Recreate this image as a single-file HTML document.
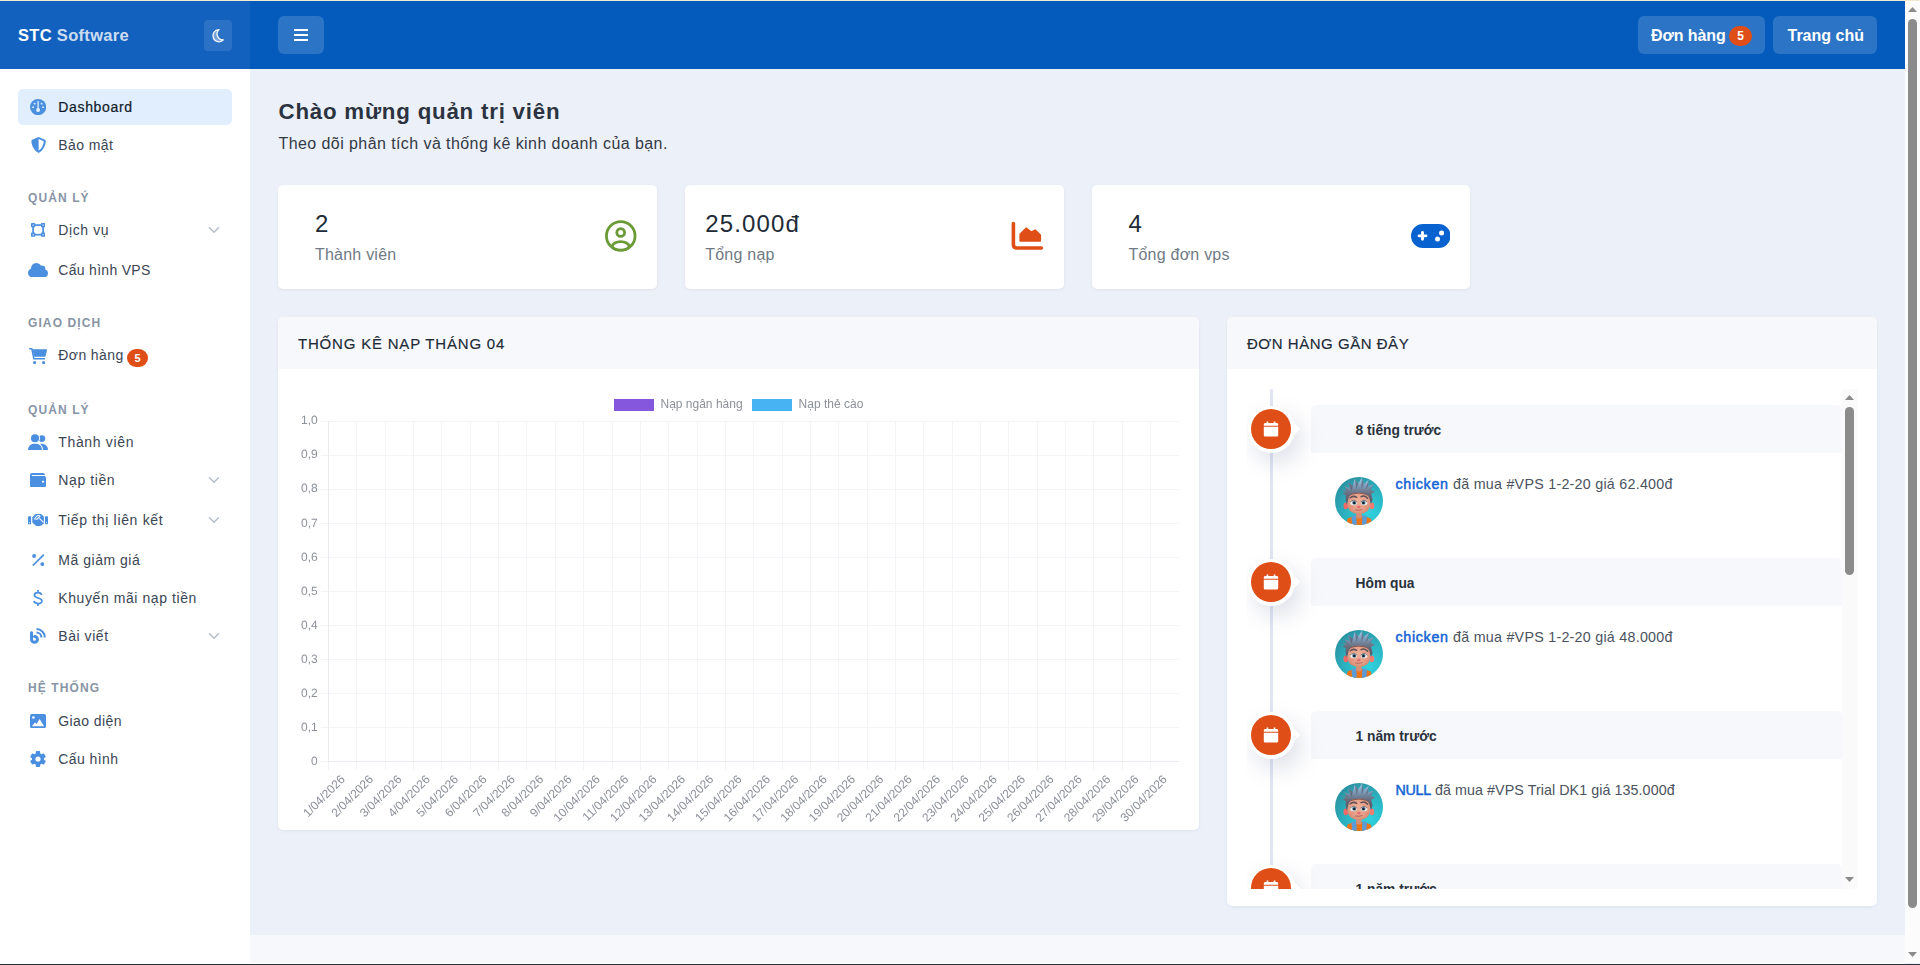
<!DOCTYPE html>
<html lang="vi">
<head>
<meta charset="utf-8">
<title>STC Software - Dashboard</title>
<style>
*{box-sizing:border-box;margin:0;padding:0}
html,body{width:1920px;height:965px;overflow:hidden}
body{font-family:"Liberation Sans",sans-serif;background:#ecf0f9;color:#212b37;position:relative}
.abs{position:absolute}
.t{position:absolute;white-space:nowrap;line-height:1}
/* top hairline + bottom line (browser chrome artefacts) */
#topline{left:0;top:0;width:1920px;height:1px;background:#f3ead2;z-index:50}
#botline{left:0;top:964px;width:1920px;height:1px;background:#26343a;z-index:50}
/* header */
#hdr{left:250px;top:1px;width:1655px;height:68px;background:#045bbc}
#shdr{left:0;top:1px;width:250px;height:68px;background:#1361bf}
.hbtn{position:absolute;background:rgba(255,255,255,.155);border-radius:6px}
/* sidebar */
#side{left:0;top:69px;width:250px;height:896px;background:#fff}
.mi{position:absolute;left:58.3px;font-size:14px;color:#3b4654;white-space:nowrap;line-height:20px;height:20px;letter-spacing:.4px}
.mi.act{color:#111c2b;-webkit-text-stroke:.22px #111c2b;letter-spacing:.66px}
.cat{position:absolute;left:28px;font-size:12px;font-weight:700;color:#8794a5;letter-spacing:1.1px;white-space:nowrap;line-height:14px;height:14px}
.ic{position:absolute;fill:#4a90e2}
.chev{position:absolute;left:208px;width:12px;height:8px;fill:none;stroke:#b4bcc8;stroke-width:1.4}
/* cards */
.card{position:absolute;background:#fff;border-radius:5px;box-shadow:0 1px 3px rgba(120,130,170,.12)}
.chead{position:absolute;left:0;top:0;right:0;height:52px;background:#f7f8fc;border-radius:5px 5px 0 0}
.num{font-size:24px;color:#212b37;letter-spacing:1.15px}
.lbl{font-size:16px;color:#6f7a86;letter-spacing:.22px}
.tlh{font-size:13.8px;font-weight:700;color:#2a323d;letter-spacing:0}
.tlt{font-size:14.3px;color:#4b5360;letter-spacing:.25px}
.tlt b{color:#1565d6;font-weight:400;-webkit-text-stroke:.5px #1565d6;letter-spacing:.7px}
/* scrollbars */
#vsb{left:1905px;top:1px;width:15px;height:962px;background:#fcfcfc}
</style>
</head>
<body>
<svg width="0" height="0" style="position:absolute">
<defs>
<radialGradient id="avbg" cx="70%" cy="75%" r="85%"><stop offset="0" stop-color="#2fd3df"/><stop offset=".55" stop-color="#2bb4c2"/><stop offset="1" stop-color="#2a8f9f"/></radialGradient>
<linearGradient id="avhair" x1="0" y1="0" x2="0" y2="1"><stop offset="0" stop-color="#a2d3f2"/><stop offset=".3" stop-color="#7d9cba"/><stop offset=".6" stop-color="#686c7c"/><stop offset="1" stop-color="#54545f"/></linearGradient>
<radialGradient id="avskin" cx="50%" cy="45%" r="60%"><stop offset="0" stop-color="#efb097"/><stop offset=".7" stop-color="#e39e86"/><stop offset="1" stop-color="#cf866f"/></radialGradient>
<clipPath id="avclip"><circle cx="24" cy="24" r="24"/></clipPath>
<symbol id="avatar" viewBox="0 0 48 48">
<g clip-path="url(#avclip)">
<rect width="48" height="48" fill="url(#avbg)"/>
<path d="M12.6 41.4 Q18 38.6 24 39 Q30 38.6 35.6 41.4 L38 49 L10.5 49 Z" fill="#ee7518"/>
<path d="M16.4 39.8 Q18.5 38 21.4 38.2 L21.7 48 L17.3 48 Z" fill="#5b9bd8"/>
<path d="M27.3 38.2 Q30 38 32 39.8 L31.2 48 L27 48 Z" fill="#5b9bd8"/>
<path d="M21.3 34 L26.5 34 L26.7 40.4 Q24 42.4 21.1 40.4 Z" fill="#d48f76"/>
<ellipse cx="10.8" cy="28.9" rx="2.3" ry="3.3" fill="#ee6a66"/>
<ellipse cx="36.9" cy="28.9" rx="2.3" ry="3.3" fill="#ef7d70"/>
<path d="M12.4 24 Q12.2 14.6 23.8 14.2 Q35.4 14.6 35.2 24 Q35.6 31 32.2 34.3 Q28 37.2 23.8 36.8 Q19.6 37.2 15.4 34.3 Q12 31 12.4 24 Z" fill="url(#avskin)"/>
<path d="M13.2 20 Q14.4 15.6 23.8 15.2 Q33.2 15.6 34.6 20 Q30 16.6 23.8 16.8 Q17.6 16.6 13.2 20Z" fill="#7a4038" opacity=".75"/>
<path d="M6.8 12.6 L11.8 13.6 L9.4 9.2 L14.4 11 L13.2 5.6 L18 8.6 L19.6 1.8 L23.2 6.6 L26.8 .8 L28.8 7 L33.6 2.8 L33.2 9 L38.6 7.6 L35.6 12.6 L40 14.8 L36.2 16.8 L37.6 22.6 L36 27 L34.6 22 Q33.6 17.4 29 16.4 Q24 15 18 16.5 Q14 17.5 13.2 22.4 L11.8 27.4 L10.6 22.6 L10.8 18 L7.4 16.8 L10.4 15 Z" fill="url(#avhair)"/>
<path d="M13.2 5.6 L16.4 13.8 L18 8.6 Z M19.6 1.8 L21.6 12 L23.2 6.6Z M26.8 .8 L26.4 11.6 L28.8 7Z M33.6 2.8 L30.6 12.6 L33.2 9Z M38.6 7.6 L33.6 14.6 L35.6 12.6Z M9.4 9.2 L14 15.4 L11.8 13.6Z" fill="#4e4f5c" opacity=".55"/>
<path d="M15.2 20.8 Q18.2 18.2 21.6 20.3" stroke="#5e5058" stroke-width="1.5" fill="none" stroke-linecap="round"/>
<path d="M26 19.7 Q29.4 18 32.6 21.2" stroke="#5e5058" stroke-width="1.5" fill="none" stroke-linecap="round"/>
<ellipse cx="18.5" cy="25.6" rx="3.4" ry="2.7" fill="#eef1f3"/>
<ellipse cx="29.1" cy="25.6" rx="3.4" ry="2.7" fill="#eef1f3"/>
<path d="M15.1 25.2 Q18.5 21.6 21.9 25" stroke="#7c5a58" stroke-width=".9" fill="none"/>
<path d="M25.7 25 Q29.1 21.6 32.5 25.2" stroke="#7c5a58" stroke-width=".9" fill="none"/>
<circle cx="19.2" cy="25.8" r="2.05" fill="#5a89a4"/><circle cx="28.5" cy="25.8" r="2.05" fill="#5a89a4"/>
<circle cx="19.3" cy="25.9" r="1.2" fill="#121c26"/><circle cx="28.4" cy="25.9" r="1.2" fill="#121c26"/>
<ellipse cx="23.8" cy="30.1" rx="1.8" ry="1.3" fill="#e56c79"/>
<ellipse cx="16.4" cy="30.6" rx="2.4" ry="1.6" fill="#e88878" opacity=".55"/><ellipse cx="31.4" cy="30.6" rx="2.4" ry="1.6" fill="#e88878" opacity=".55"/>
<path d="M20.4 33 Q23.8 34 27.2 32.6" stroke="#a85c52" stroke-width=".8" fill="none" stroke-linecap="round"/>
</g>
</symbol>
<symbol id="cal" viewBox="0 0 16 16">
<path d="M3.6 0.4h1.7v1.7h5.4V0.4h1.7v1.7h1.2c.9 0 1.6.7 1.6 1.6v1H.8v-1c0-.9.7-1.6 1.6-1.6h1.2z M.8 5.7h14.4v8.3c0 .9-.7 1.6-1.6 1.6H2.4c-.9 0-1.6-.7-1.6-1.6z" fill="#fff"/>
</symbol>
</defs></svg>
<div id="topline" class="abs"></div>
<div id="botline" class="abs"></div>

<!-- HEADER -->
<div id="shdr" class="abs"></div>
<div id="hdr" class="abs"></div>
<div class="t" style="left:18px;top:27.1px;font-size:16.5px;font-weight:700;color:#fff;letter-spacing:.31px">STC <span style="color:rgba(255,255,255,.8)">Software</span></div>
<div class="hbtn" style="left:204px;top:20px;width:28px;height:31px;border-radius:4px;background:rgba(255,255,255,.105)"></div>
<svg class="abs" style="left:211px;top:28px" width="14" height="15" viewBox="0 0 14 15"><path d="M8.1 1.6 A6.1 6.1 0 1 0 12.4 11.9 A5.9 5.9 0 0 1 8.1 1.6 Z" fill="rgba(255,255,255,.35)" stroke="#fff" stroke-width="1.25" stroke-linejoin="round"/></svg>
<div class="hbtn" style="left:278px;top:16px;width:46px;height:38px"></div>
<div class="abs" style="left:294px;top:29px;width:14px;height:2px;background:#fff"></div><div class="abs" style="left:294px;top:34px;width:14px;height:2px;background:#fff"></div><div class="abs" style="left:294px;top:39px;width:14px;height:2px;background:#fff"></div>
<div class="hbtn" style="left:1638px;top:16px;width:127px;height:38px"></div>
<div class="t" style="left:1651px;top:28.0px;font-size:16px;font-weight:700;color:#fff;letter-spacing:-.1px">Đơn hàng</div>
<div class="abs" style="left:1729px;top:26px;width:23px;height:20px;border-radius:10px;background:#e04e17"></div>
<div class="t" style="left:1729px;width:23px;text-align:center;top:30.3px;font-size:12px;font-weight:700;color:#fff">5</div>
<div class="hbtn" style="left:1773px;top:16px;width:104px;height:38px"></div>
<div class="t" style="left:1787.5px;top:28.0px;font-size:16px;font-weight:700;color:#fff">Trang chủ</div>

<!-- SIDEBAR -->
<div id="side" class="abs"></div>
<div class="abs" style="left:18px;top:89px;width:214px;height:36px;border-radius:5px;background:#e1eefd"></div>
<div class="mi act" id="mi0" style="top:97px">Dashboard</div>
<div class="mi" id="mi1" style="top:135px">Bảo mật</div>
<div class="mi" id="mi2" style="top:220px;letter-spacing:0.6px">Dịch vụ</div>
<svg class="chev" style="top:225.5px" viewBox="0 0 12 8"><path d="M1 1.2 L6 6.2 L11 1.2"/></svg>
<div class="mi" id="mi3" style="top:260px;letter-spacing:0.3px">Cấu hình VPS</div>
<div class="mi" id="mi4" style="top:345px">Đơn hàng</div>
<div class="mi" id="mi5" style="top:432px;letter-spacing:0.65px">Thành viên</div>
<div class="mi" id="mi6" style="top:470px;letter-spacing:0.6px">Nạp tiền</div>
<svg class="chev" style="top:475.5px" viewBox="0 0 12 8"><path d="M1 1.2 L6 6.2 L11 1.2"/></svg>
<div class="mi" id="mi7" style="top:510px;letter-spacing:0.67px">Tiếp thị liên kết</div>
<svg class="chev" style="top:515.5px" viewBox="0 0 12 8"><path d="M1 1.2 L6 6.2 L11 1.2"/></svg>
<div class="mi" id="mi8" style="top:550px;letter-spacing:0.52px">Mã giảm giá</div>
<div class="mi" id="mi9" style="top:588px;letter-spacing:0.58px">Khuyến mãi nạp tiền</div>
<div class="mi" id="mi10" style="top:626px;letter-spacing:0.55px">Bài viết</div>
<svg class="chev" style="top:631.5px" viewBox="0 0 12 8"><path d="M1 1.2 L6 6.2 L11 1.2"/></svg>
<div class="mi" id="mi11" style="top:711px">Giao diện</div>
<div class="mi" id="mi12" style="top:749px">Cấu hình</div>
<div class="cat" id="cat0" style="top:190.7px">QUẢN LÝ</div>
<div class="cat" id="cat1" style="top:315.7px">GIAO DỊCH</div>
<div class="cat" id="cat2" style="top:403.2px">QUẢN LÝ</div>
<div class="cat" id="cat3" style="top:681.1px">HỆ THỐNG</div>
<div class="abs" style="left:127px;top:349px;width:21px;height:17.5px;border-radius:9px;background:#e04e17"></div>
<div class="t" style="left:127px;width:21px;text-align:center;top:352.7px;font-size:11px;font-weight:700;color:#fff">5</div>

<!-- icons -->
<svg class="abs" style="left:29.9px;top:98.9px" width="16.2" height="16.2" viewBox="0 0 16 16"><circle cx="8" cy="8" r="8" fill="#4a8fe0"/><rect x="7.35" y="1.9" width="1.3" height="8" rx=".65" fill="#e1eefd"/><circle cx="8" cy="10.8" r="1.95" fill="#e1eefd"/><rect x="3.7" y="3.7" width="1.7" height="1.7" rx=".5" fill="#e1eefd"/><rect x="10.6" y="3.7" width="1.7" height="1.7" rx=".5" fill="#e1eefd"/><rect x="2.1" y="7.3" width="1.8" height="1.7" rx=".4" fill="#e1eefd"/><rect x="12.1" y="7.3" width="1.8" height="1.7" rx=".4" fill="#e1eefd"/></svg>
<svg class="abs" style="left:30.7px;top:136.8px" width="15.2" height="16" viewBox="0 0 15.2 16"><path d="M7.6 .1 L14.1 2.8 Q14.8 3.1 14.8 3.9 C14.6 9.2 11.8 13.6 7.6 15.9 C3.4 13.6 .6 9.2 .4 3.9 Q.4 3.1 1.1 2.8 Z" fill="#4a8fe0"/><path d="M7.6 2.1 L12.8 4.3 C12.5 8.6 10.4 11.9 7.6 13.7 Z" fill="#fff"/></svg>
<svg class="abs" style="left:31px;top:223px" width="14.2" height="13.8" viewBox="0 0 14.2 13.8"><rect x="2.1" y="2.1" width="10" height="9.6" fill="none" stroke="#4a8fe0" stroke-width="1.7"/><rect x="0" y="0" width="4.2" height="4.2" rx=".7" fill="#4a8fe0"/><rect x="1.45" y="1.45" width="1.3" height="1.3" fill="#cfe1f7"/><rect x="0" y="9.6" width="4.2" height="4.2" rx=".7" fill="#4a8fe0"/><rect x="1.45" y="11.049999999999999" width="1.3" height="1.3" fill="#cfe1f7"/><rect x="10" y="0" width="4.2" height="4.2" rx=".7" fill="#4a8fe0"/><rect x="11.45" y="1.45" width="1.3" height="1.3" fill="#cfe1f7"/><rect x="10" y="9.6" width="4.2" height="4.2" rx=".7" fill="#4a8fe0"/><rect x="11.45" y="11.049999999999999" width="1.3" height="1.3" fill="#cfe1f7"/></svg>
<svg class="abs" style="left:28px;top:262.8px" width="20" height="14.2" viewBox="0 0 20 14.2"><g fill="#4a8fe0"><circle cx="4.3" cy="9.9" r="4.3"/><circle cx="16.1" cy="10.3" r="3.9"/><rect x="4.3" y="7" width="11.8" height="7.2"/><circle cx="8.3" cy="5.3" r="5.3"/><circle cx="13.9" cy="6.1" r="3.5"/></g></svg>
<svg class="abs" style="left:28.9px;top:347.7px" width="18.2" height="16.3" viewBox="0 0 18.2 16.3"><g fill="#4a8fe0"><path d="M.2 .1 H2.9 Q3.5 .1 3.65 .7 L5.55 10 H16 V11.5 H4.9 Q4.3 11.5 4.17 10.9 L2.25 1.6 H.2 Z"/><path d="M3.3 1.3 H17.4 Q18.3 1.3 18.05 2.2 L16.6 8.1 Q16.45 8.7 15.8 8.7 H5.3 Z"/><circle cx="5.6" cy="14.6" r="1.6"/><circle cx="14.6" cy="14.6" r="1.6"/></g></svg>
<svg class="abs" style="left:28px;top:433.7px" width="20" height="16.4" viewBox="0 0 20 16.4"><circle cx="13.9" cy="4.6" r="3.4" fill="#4a8fe0"/><path d="M12.4 9.9 C17 9.5 20 12 20 16.3 H12.4 Z" fill="#4a8fe0"/><circle cx="7" cy="4.2" r="5" fill="#fff"/><path d="M-1 16.4 C-1 11 2.6 8.7 7 8.7 C11.4 8.7 15.1 11 15.1 16.4 Z" fill="#fff"/><circle cx="7" cy="4.2" r="4.05" fill="#4a8fe0"/><path d="M0 16.3 C0 11.8 3 9.8 7 9.8 C11 9.8 14 11.8 14 16.3 Z" fill="#4a8fe0"/></svg>
<svg class="abs" style="left:30px;top:472.7px" width="16" height="14.3" viewBox="0 0 16 14.3"><rect x="0" y="0" width="15" height="14.3" rx="2" fill="#4a8fe0"/><rect x="0" y="2.9" width="16" height="11.4" rx="2" fill="#4a8fe0"/><rect x="1.8" y="2" width="13.2" height=".95" fill="#fff"/><rect x="11.9" y="7.8" width="2.3" height="1.7" rx=".85" fill="#fff"/></svg>
<svg class="abs" style="left:28px;top:513.6px" width="20" height="12.4" viewBox="0 0 20 12.4"><g fill="#4a8fe0"><rect x="0" y="2.3" width="3.1" height="7.9" rx=".4"/><rect x="16.9" y="2.3" width="3.1" height="7.9" rx=".4"/><path d="M4.3 3.2 L6.9 .4 Q7.3 0 7.9 0 H12.6 Q13.2 0 13.6 .4 L15.9 2.8 V9.6 L14.4 10.6 L13.6 11.6 L12.2 11.7 L11.4 12.4 L9.8 12 L8.6 12.3 L4.3 8.6 Z"/></g><circle cx="1.5" cy="8.7" r=".55" fill="#fff"/><circle cx="18.5" cy="8.7" r=".55" fill="#fff"/><path d="M11.3 4.4 L15.6 8.4" stroke="#fff" stroke-width="1.05" fill="none"/><path d="M6.6 5 L8.6 2.3 Q9.8 1.1 11.2 1.6 L12 2.2 L9.6 4.6 Q8.8 5.6 7.9 5.2" stroke="#fff" stroke-width="1.05" fill="none" stroke-linecap="round" stroke-linejoin="round"/></svg>
<svg class="abs" style="left:31.8px;top:553.8px" width="12.6" height="12.2" viewBox="0 0 12.6 12.2"><circle cx="2.1" cy="2" r="1.95" fill="#4a8fe0"/><circle cx="10.3" cy="10.1" r="1.95" fill="#4a8fe0"/><path d="M.8 11.5 L11.9 .7" stroke="#4a8fe0" stroke-width="1.7" fill="none"/></svg>
<svg class="abs" style="left:33px;top:590px" width="10" height="16" viewBox="0 0 10 16"><path d="M5 0 V2.4 M5 13.6 V16" stroke="#4a8fe0" stroke-width="1.7" fill="none"/><path d="M8.5 4.9 C8.2 1.9 1.5 1.7 1.4 5.2 C1.3 8.6 9 7.3 9 10.9 C9 14.6 1.4 14.2 .8 11" stroke="#4a8fe0" stroke-width="1.7" fill="none"/></svg>
<svg class="abs" style="left:29.9px;top:628px" width="16.2" height="16" viewBox="0 0 16.2 16"><path d="M1.55 4.7 V11.4 A2.95 2.95 0 1 0 4.5 8.45" stroke="#4a8fe0" stroke-width="3" fill="none" stroke-linecap="round"/><path d="M6.5 1.1 A8.3 8.3 0 0 1 14.8 9.4" stroke="#4a8fe0" stroke-width="2" fill="none"/><path d="M6.5 4.5 A4.9 4.9 0 0 1 11.4 9.4" stroke="#4a8fe0" stroke-width="2" fill="none"/></svg>
<svg class="abs" style="left:30px;top:713.7px" width="16" height="14.2" viewBox="0 0 16 14.2"><rect width="16" height="14.2" rx="1.9" fill="#4a8fe0"/><circle cx="3.4" cy="3.5" r="1.35" fill="#fff"/><path d="M1.9 12.3 L5 8.5 L6.5 9.9 L9.6 5 L14.1 12.3 Z" fill="#fff"/></svg>
<svg class="abs" style="left:30px;top:750.9px" width="16" height="16" viewBox="0 0 16 16"><g transform="translate(8,8)"><circle r="6.05" fill="#4a8fe0"/><rect x="-2.2" y="-7.95" width="4.4" height="4" rx=".9" transform="rotate(0)" fill="#4a8fe0"/><rect x="-2.2" y="-7.95" width="4.4" height="4" rx=".9" transform="rotate(60)" fill="#4a8fe0"/><rect x="-2.2" y="-7.95" width="4.4" height="4" rx=".9" transform="rotate(120)" fill="#4a8fe0"/><rect x="-2.2" y="-7.95" width="4.4" height="4" rx=".9" transform="rotate(180)" fill="#4a8fe0"/><rect x="-2.2" y="-7.95" width="4.4" height="4" rx=".9" transform="rotate(240)" fill="#4a8fe0"/><rect x="-2.2" y="-7.95" width="4.4" height="4" rx=".9" transform="rotate(300)" fill="#4a8fe0"/><circle r="2.6" fill="#fff"/></g></svg>
<!-- MAIN -->
<div id="main">
<div class="t" id="ttl" style="left:278.5px;top:100.6px;font-size:22.3px;font-weight:700;color:#2b3340;letter-spacing:.78px">Chào mừng quản trị viên</div>
<div class="t" id="sub" style="left:278.5px;top:135.5px;font-size:16px;color:#333a45;letter-spacing:.42px">Theo dõi phân tích và thống kê kinh doanh của bạn.</div>
<div class="card" style="left:278px;top:185px;width:378.75px;height:104px"></div>
<div class="t num" id="num0" style="left:315px;top:211.7px">2</div>
<div class="t lbl" id="lbl0" style="left:315px;top:247.3px">Thành viên</div>
<div class="card" style="left:684.75px;top:185px;width:378.75px;height:104px"></div>
<div class="t num" id="num1" style="left:705.25px;top:211.7px">25.000đ</div>
<div class="t lbl" id="lbl1" style="left:705.25px;top:247.3px">Tổng nạp</div>
<div class="card" style="left:1091.5px;top:185px;width:378.75px;height:104px"></div>
<div class="t num" id="num2" style="left:1128.5px;top:211.7px">4</div>
<div class="t lbl" id="lbl2" style="left:1128.5px;top:247.3px">Tổng đơn vps</div>
<div class="card" id="ccard" style="left:278px;top:317px;width:921px;height:513px"><div class="chead"></div></div>
<div class="t" id="ct1" style="left:298px;top:335.9px;font-size:15px;color:#212b37;letter-spacing:.8px;-webkit-text-stroke:.15px #212b37">THỐNG KÊ NẠP THÁNG 04</div>
<svg class="abs" style="left:604px;top:219px" width="34" height="34" viewBox="0 0 34 34"><defs><clipPath id="ucp"><circle cx="16.75" cy="16.9" r="15.7"/></clipPath></defs><circle cx="16.75" cy="16.9" r="14.3" fill="none" stroke="#6b9b37" stroke-width="2.8"/><circle cx="16.7" cy="13.5" r="3.9" fill="none" stroke="#6b9b37" stroke-width="2.8"/><ellipse cx="16.7" cy="27.4" rx="8.3" ry="4.8" fill="none" stroke="#6b9b37" stroke-width="2.8" clip-path="url(#ucp)"/></svg>
<svg class="abs" style="left:1008px;top:218px" width="40" height="36" viewBox="0 0 40 36"><path d="M5.4 5.6 V26.4 Q5.4 30.05 9 30.05 H33.4" stroke="#e04e17" stroke-width="3.6" fill="none" stroke-linecap="round"/><path d="M12.2 16.2 L18.1 10.2 L23.3 14.1 L27.2 12.1 L32.3 17 V23 H12.2 Z" fill="#e04e17" stroke="#e04e17" stroke-width="1.6" stroke-linejoin="round"/></svg>
<svg class="abs" style="left:1410.9px;top:224px" width="39.6" height="23.9" viewBox="0 0 39.6 23.9"><rect width="39.6" height="23.9" rx="11.95" fill="#0862d0"/><path d="M8 11.85 H15 M11.5 8.35 V15.35" stroke="#fff" stroke-width="2.9" stroke-linecap="round"/><circle cx="30.6" cy="9.05" r="2.5" fill="#fff"/><circle cx="26.6" cy="15" r="2.5" fill="#fff"/></svg>
<svg class="abs" id="chart" style="left:278px;top:369px;will-change:transform" width="921" height="461" viewBox="0 0 921 461" font-family="Liberation Sans, sans-serif" font-size="12" fill="#8c909a" shape-rendering="crispEdges">
<line x1="42.5" y1="52.5" x2="901.0" y2="52.5" stroke="#f3f4f8"/>
<line x1="42.5" y1="86.5" x2="901.0" y2="86.5" stroke="#f3f4f8"/>
<line x1="42.5" y1="120.5" x2="901.0" y2="120.5" stroke="#f3f4f8"/>
<line x1="42.5" y1="154.5" x2="901.0" y2="154.5" stroke="#f3f4f8"/>
<line x1="42.5" y1="188.5" x2="901.0" y2="188.5" stroke="#f3f4f8"/>
<line x1="42.5" y1="222.5" x2="901.0" y2="222.5" stroke="#f3f4f8"/>
<line x1="42.5" y1="256.5" x2="901.0" y2="256.5" stroke="#f3f4f8"/>
<line x1="42.5" y1="290.5" x2="901.0" y2="290.5" stroke="#f3f4f8"/>
<line x1="42.5" y1="324.5" x2="901.0" y2="324.5" stroke="#f3f4f8"/>
<line x1="42.5" y1="358.5" x2="901.0" y2="358.5" stroke="#f3f4f8"/>
<line x1="42.5" y1="392.5" x2="901.0" y2="392.5" stroke="#f3f4f8"/>
<line x1="50.5" y1="52.5" x2="50.5" y2="401.0" stroke="#f3f4f8"/>
<line x1="78.5" y1="52.5" x2="78.5" y2="401.0" stroke="#f3f4f8"/>
<line x1="107.5" y1="52.5" x2="107.5" y2="401.0" stroke="#f3f4f8"/>
<line x1="135.5" y1="52.5" x2="135.5" y2="401.0" stroke="#f3f4f8"/>
<line x1="163.5" y1="52.5" x2="163.5" y2="401.0" stroke="#f3f4f8"/>
<line x1="192.5" y1="52.5" x2="192.5" y2="401.0" stroke="#f3f4f8"/>
<line x1="220.5" y1="52.5" x2="220.5" y2="401.0" stroke="#f3f4f8"/>
<line x1="248.5" y1="52.5" x2="248.5" y2="401.0" stroke="#f3f4f8"/>
<line x1="277.5" y1="52.5" x2="277.5" y2="401.0" stroke="#f3f4f8"/>
<line x1="305.5" y1="52.5" x2="305.5" y2="401.0" stroke="#f3f4f8"/>
<line x1="334.5" y1="52.5" x2="334.5" y2="401.0" stroke="#f3f4f8"/>
<line x1="362.5" y1="52.5" x2="362.5" y2="401.0" stroke="#f3f4f8"/>
<line x1="390.5" y1="52.5" x2="390.5" y2="401.0" stroke="#f3f4f8"/>
<line x1="419.5" y1="52.5" x2="419.5" y2="401.0" stroke="#f3f4f8"/>
<line x1="447.5" y1="52.5" x2="447.5" y2="401.0" stroke="#f3f4f8"/>
<line x1="475.5" y1="52.5" x2="475.5" y2="401.0" stroke="#f3f4f8"/>
<line x1="504.5" y1="52.5" x2="504.5" y2="401.0" stroke="#f3f4f8"/>
<line x1="532.5" y1="52.5" x2="532.5" y2="401.0" stroke="#f3f4f8"/>
<line x1="560.5" y1="52.5" x2="560.5" y2="401.0" stroke="#f3f4f8"/>
<line x1="589.5" y1="52.5" x2="589.5" y2="401.0" stroke="#f3f4f8"/>
<line x1="617.5" y1="52.5" x2="617.5" y2="401.0" stroke="#f3f4f8"/>
<line x1="645.5" y1="52.5" x2="645.5" y2="401.0" stroke="#f3f4f8"/>
<line x1="674.5" y1="52.5" x2="674.5" y2="401.0" stroke="#f3f4f8"/>
<line x1="702.5" y1="52.5" x2="702.5" y2="401.0" stroke="#f3f4f8"/>
<line x1="730.5" y1="52.5" x2="730.5" y2="401.0" stroke="#f3f4f8"/>
<line x1="759.5" y1="52.5" x2="759.5" y2="401.0" stroke="#f3f4f8"/>
<line x1="787.5" y1="52.5" x2="787.5" y2="401.0" stroke="#f3f4f8"/>
<line x1="815.5" y1="52.5" x2="815.5" y2="401.0" stroke="#f3f4f8"/>
<line x1="844.5" y1="52.5" x2="844.5" y2="401.0" stroke="#f3f4f8"/>
<line x1="872.5" y1="52.5" x2="872.5" y2="401.0" stroke="#f3f4f8"/>
<line x1="50.5" y1="52.0" x2="50.5" y2="393.0" stroke="#e9ebf1"/>
<line x1="50.0" y1="392.5" x2="901.0" y2="392.5" stroke="#e9ebf1"/>
<g shape-rendering="auto">
<text transform="translate(39.7,55) rotate(-0.04)" text-anchor="end">1,0</text>
<text transform="translate(39.7,89) rotate(-0.04)" text-anchor="end">0,9</text>
<text transform="translate(39.7,123) rotate(-0.04)" text-anchor="end">0,8</text>
<text transform="translate(39.7,158) rotate(-0.04)" text-anchor="end">0,7</text>
<text transform="translate(39.7,192) rotate(-0.04)" text-anchor="end">0,6</text>
<text transform="translate(39.7,226) rotate(-0.04)" text-anchor="end">0,5</text>
<text transform="translate(39.7,260) rotate(-0.04)" text-anchor="end">0,4</text>
<text transform="translate(39.7,294) rotate(-0.04)" text-anchor="end">0,3</text>
<text transform="translate(39.7,328) rotate(-0.04)" text-anchor="end">0,2</text>
<text transform="translate(39.7,362) rotate(-0.04)" text-anchor="end">0,1</text>
<text transform="translate(39.7,396) rotate(-0.04)" text-anchor="end">0</text>
<text transform="translate(67.68,411.0) rotate(-45)" text-anchor="end">1/04/2026</text>
<text transform="translate(96.03,411.0) rotate(-45)" text-anchor="end">2/04/2026</text>
<text transform="translate(124.38,411.0) rotate(-45)" text-anchor="end">3/04/2026</text>
<text transform="translate(152.73,411.0) rotate(-45)" text-anchor="end">4/04/2026</text>
<text transform="translate(181.07,411.0) rotate(-45)" text-anchor="end">5/04/2026</text>
<text transform="translate(209.43,411.0) rotate(-45)" text-anchor="end">6/04/2026</text>
<text transform="translate(237.77,411.0) rotate(-45)" text-anchor="end">7/04/2026</text>
<text transform="translate(266.12,411.0) rotate(-45)" text-anchor="end">8/04/2026</text>
<text transform="translate(294.47,411.0) rotate(-45)" text-anchor="end">9/04/2026</text>
<text transform="translate(322.82,411.0) rotate(-45)" text-anchor="end">10/04/2026</text>
<text transform="translate(351.17,411.0) rotate(-45)" text-anchor="end">11/04/2026</text>
<text transform="translate(379.52,411.0) rotate(-45)" text-anchor="end">12/04/2026</text>
<text transform="translate(407.88,411.0) rotate(-45)" text-anchor="end">13/04/2026</text>
<text transform="translate(436.22,411.0) rotate(-45)" text-anchor="end">14/04/2026</text>
<text transform="translate(464.58,411.0) rotate(-45)" text-anchor="end">15/04/2026</text>
<text transform="translate(492.92,411.0) rotate(-45)" text-anchor="end">16/04/2026</text>
<text transform="translate(521.27,411.0) rotate(-45)" text-anchor="end">17/04/2026</text>
<text transform="translate(549.62,411.0) rotate(-45)" text-anchor="end">18/04/2026</text>
<text transform="translate(577.97,411.0) rotate(-45)" text-anchor="end">19/04/2026</text>
<text transform="translate(606.32,411.0) rotate(-45)" text-anchor="end">20/04/2026</text>
<text transform="translate(634.67,411.0) rotate(-45)" text-anchor="end">21/04/2026</text>
<text transform="translate(663.02,411.0) rotate(-45)" text-anchor="end">22/04/2026</text>
<text transform="translate(691.38,411.0) rotate(-45)" text-anchor="end">23/04/2026</text>
<text transform="translate(719.73,411.0) rotate(-45)" text-anchor="end">24/04/2026</text>
<text transform="translate(748.08,411.0) rotate(-45)" text-anchor="end">25/04/2026</text>
<text transform="translate(776.42,411.0) rotate(-45)" text-anchor="end">26/04/2026</text>
<text transform="translate(804.77,411.0) rotate(-45)" text-anchor="end">27/04/2026</text>
<text transform="translate(833.12,411.0) rotate(-45)" text-anchor="end">28/04/2026</text>
<text transform="translate(861.48,411.0) rotate(-45)" text-anchor="end">29/04/2026</text>
<text transform="translate(889.83,411.0) rotate(-45)" text-anchor="end">30/04/2026</text>
<rect x="336" y="30" width="40" height="12" fill="#8457dc"/>
<text x="382.5" y="39.4">Nạp ngân hàng</text>
<rect x="474" y="30" width="40" height="12" fill="#48b3f3"/>
<text x="520.6" y="39.4">Nạp thẻ cào</text>
</g></svg>
<div class="card" id="ocard" style="left:1227px;top:317px;width:650px;height:589px"><div class="chead"></div></div>
<div class="t" id="ct2" style="left:1247px;top:335.9px;font-size:15px;color:#212b37;letter-spacing:.53px;-webkit-text-stroke:.15px #212b37">ĐƠN HÀNG GẦN ĐÂY</div>
<div class="abs" id="tl" style="left:1247px;top:389px;width:610px;height:499.5px;overflow:hidden;background:#fff">
<div class="abs" style="left:22.5px;top:0;width:3px;height:520px;background:#e0e4f3;border-radius:2px"></div>
<div class="abs" style="left:64px;top:16px;width:531px;height:48px;background:#f7f8fc;border-radius:5px 5px 0 0"></div>
<div class="abs" style="left:0.5px;top:16.5px;width:47px;height:47px;border-radius:50%;background:#fff;box-shadow:6px 10px 22px rgba(110,120,160,.22)"></div>
<div class="abs" style="left:41px;top:34px;width:12px;height:12px;background:#fff;transform:rotate(45deg) scale(.75)"></div>
<div class="abs" style="left:4px;top:20px;width:40px;height:40px;border-radius:50%;background:#e04e17"></div>
<svg class="abs" style="left:16.200000000000045px;top:32px" width="16" height="16"><use href="#cal"/></svg>
<div class="t tlh" id="tlh0" style="left:108.5px;top:34.6px">8 tiếng trước</div>
<svg class="abs" style="left:88px;top:88px" width="48" height="48"><use href="#avatar"/></svg>
<div class="t tlt" id="tlt0" style="left:148.4000000000001px;top:87.6px"><b>chicken</b> đã mua #VPS 1-2-20 giá 62.400đ</div>
<div class="abs" style="left:64px;top:169px;width:531px;height:48px;background:#f7f8fc;border-radius:5px 5px 0 0"></div>
<div class="abs" style="left:0.5px;top:169.5px;width:47px;height:47px;border-radius:50%;background:#fff;box-shadow:6px 10px 22px rgba(110,120,160,.22)"></div>
<div class="abs" style="left:41px;top:187px;width:12px;height:12px;background:#fff;transform:rotate(45deg) scale(.75)"></div>
<div class="abs" style="left:4px;top:173px;width:40px;height:40px;border-radius:50%;background:#e04e17"></div>
<svg class="abs" style="left:16.200000000000045px;top:185px" width="16" height="16"><use href="#cal"/></svg>
<div class="t tlh" id="tlh1" style="left:108.5px;top:187.6px">Hôm qua</div>
<svg class="abs" style="left:88px;top:241px" width="48" height="48"><use href="#avatar"/></svg>
<div class="t tlt" id="tlt1" style="left:148.4000000000001px;top:240.6px"><b>chicken</b> đã mua #VPS 1-2-20 giá 48.000đ</div>
<div class="abs" style="left:64px;top:322px;width:531px;height:48px;background:#f7f8fc;border-radius:5px 5px 0 0"></div>
<div class="abs" style="left:0.5px;top:322.5px;width:47px;height:47px;border-radius:50%;background:#fff;box-shadow:6px 10px 22px rgba(110,120,160,.22)"></div>
<div class="abs" style="left:41px;top:340px;width:12px;height:12px;background:#fff;transform:rotate(45deg) scale(.75)"></div>
<div class="abs" style="left:4px;top:326px;width:40px;height:40px;border-radius:50%;background:#e04e17"></div>
<svg class="abs" style="left:16.200000000000045px;top:338px" width="16" height="16"><use href="#cal"/></svg>
<div class="t tlh" id="tlh2" style="left:108.5px;top:340.6px">1 năm trước</div>
<svg class="abs" style="left:88px;top:394px" width="48" height="48"><use href="#avatar"/></svg>
<div class="t tlt" id="tlt2" style="left:148.4000000000001px;top:393.6px"><b style="letter-spacing:-.25px">NULL</b><span style="letter-spacing:.06px"> đã mua #VPS Trial DK1 giá 135.000đ</span></div>
<div class="abs" style="left:64px;top:475px;width:531px;height:48px;background:#f7f8fc;border-radius:5px 5px 0 0"></div>
<div class="abs" style="left:0.5px;top:475.5px;width:47px;height:47px;border-radius:50%;background:#fff;box-shadow:6px 10px 22px rgba(110,120,160,.22)"></div>
<div class="abs" style="left:41px;top:493px;width:12px;height:12px;background:#fff;transform:rotate(45deg) scale(.75)"></div>
<div class="abs" style="left:4px;top:479px;width:40px;height:40px;border-radius:50%;background:#e04e17"></div>
<svg class="abs" style="left:16.200000000000045px;top:491px" width="16" height="16"><use href="#cal"/></svg>
<div class="t tlh" id="tlh3" style="left:108.5px;top:493.6px">1 năm trước</div>
<svg class="abs" style="left:88px;top:547px" width="48" height="48"><use href="#avatar"/></svg>
<div class="t tlt" id="tlt3" style="left:148.4000000000001px;top:546.6px"><b style="letter-spacing:-.25px">NULL</b><span style="letter-spacing:-.05px"> đã mua #VPS</span></div>
<div class="abs" style="left:595px;top:0;width:15px;height:500px;background:#fafafa"></div>
<div class="abs" style="left:598px;top:18.30000000000001px;width:9px;height:167.5px;border-radius:4.5px;background:#8b8b8b"></div>
<svg class="abs" style="left:598px;top:6px" width="9" height="5" viewBox="0 0 9 5"><path d="M0 5 L4.5 0 L9 5Z" fill="#8b8b8b"/></svg>
<svg class="abs" style="left:598px;top:488px" width="9" height="5" viewBox="0 0 9 5"><path d="M0 0 L4.5 5 L9 0Z" fill="#8b8b8b"/></svg>
</div>
<div class="abs" style="left:250px;top:935px;width:1655px;height:28px;background:#f7f8fc"></div><div class="abs" style="left:250px;top:963px;width:1655px;height:1px;background:#fff"></div>
</div>

<!-- page scrollbar -->
<div id="vsb" class="abs"></div>
<div class="abs" style="left:1908px;top:19px;width:9px;height:889px;border-radius:4.5px;background:#8b8b8b"></div>
<svg class="abs" style="left:1908px;top:7px" width="9" height="5" viewBox="0 0 9 5"><path d="M0 5 L4.5 0 L9 5Z" fill="#8b8b8b"/></svg>
<svg class="abs" style="left:1908px;top:952px" width="9" height="5" viewBox="0 0 9 5"><path d="M0 0 L4.5 5 L9 0Z" fill="#8b8b8b"/></svg>
</body>
</html>
